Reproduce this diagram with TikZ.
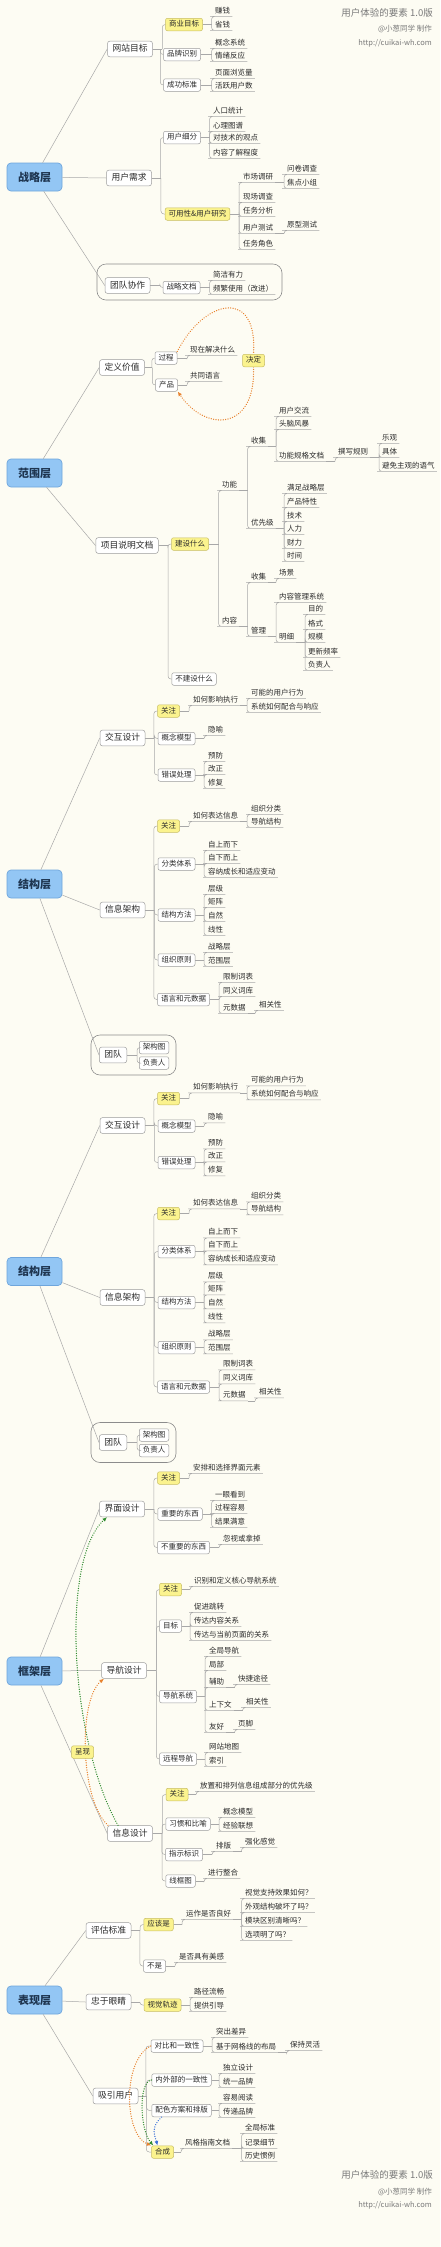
\documentclass[tikz,border=0pt]{standalone}
\usepackage{fontspec}
\setmainfont{Noto Sans CJK SC}
\usetikzlibrary{arrows.meta}
\definecolor{bg}{HTML}{FDFCF3}
\definecolor{lc}{HTML}{A8A8A8}
\definecolor{bc}{HTML}{9C9C9C}
\definecolor{tc}{HTML}{2B2B2B}
\definecolor{mainfill}{HTML}{93C6F4}
\definecolor{mainborder}{HTML}{6FA6DC}
\definecolor{maintext}{HTML}{1E3550}
\definecolor{yf}{HTML}{FBF38E}
\definecolor{yb}{HTML}{C7BD62}
\definecolor{bdc}{HTML}{8C8C8C}
\definecolor{titc}{HTML}{7A7A7A}
\definecolor{orc}{HTML}{E8822E}
\definecolor{grc}{HTML}{2E8B2E}
\definecolor{blc}{HTML}{3A6FD8}
\newcommand\fxs{\fontsize{7.5pt}{9pt}\selectfont}
\newcommand\fmd{\fontsize{8.75pt}{10pt}\selectfont}
\newcommand\flg{\fontsize{11pt}{13pt}\selectfont}
\newcommand\fti{\fontsize{9.5pt}{11pt}\selectfont}
\tikzset{
 conn/.style={draw=lc, line width=0.5pt},
 mainbox/.style={draw=mainborder, fill=mainfill, rounded corners=4pt, line width=0.7pt, minimum width=55pt, minimum height=28pt, font=\flg\bfseries, text=maintext, inner sep=0pt},
 l2box/.style={draw=bc, fill=white, rounded corners=2.5pt, line width=0.5pt, font=\fmd, text=tc, inner xsep=5pt, inner ysep=3.5pt, text height=7pt, text depth=1.8pt},
 l3box/.style={draw=bc, fill=white, rounded corners=2pt, line width=0.5pt, font=\fxs, text=tc, inner xsep=3.5pt, inner ysep=2.5pt, text height=6pt, text depth=1.5pt},
 ylbox/.style={l3box, fill=yf, draw=yb},
 lf/.style={font=\fxs, text=tc, inner xsep=2pt, inner ysep=1.5pt, text height=6pt, text depth=1.5pt, anchor=west},
 bound/.style={draw=bdc, line width=0.6pt, rounded corners=9pt},
 rel/.style={line width=1.4pt, dash pattern=on 0.01pt off 2.4pt, line cap=round},
 tip/.style={-{Latex[length=4.5pt,width=4pt]}},
 titlet/.style={font=\fti, text=titc, anchor=east, inner sep=0pt},
 subt/.style={font=\fxs, text=titc, anchor=east, inner sep=0pt},
}
\newcommand\tob[3]{\path (#1 -| #2.west) ++(-#3,0) coordinate (sp);\draw[conn] (#1) -- (sp);\draw[conn,rounded corners=3pt] (sp) |- (#2.west);}
\newcommand\tol[3]{\path (#1 -| #2.south west) ++(-#3,0) coordinate (sp);\draw[conn] (#1) -- (sp);\draw[conn,rounded corners=3pt] (sp) |- (#2.south west) -- (#2.south east);}
\newcommand\jglayer[2]{%
\begin{scope}[yshift=#1]
\draw[bound] (91,1035) rectangle (176,1075);
\node[mainbox] (#2m) at (34.5,884) {结构层};
\node[l2box] (#2s1) at (122.5,738) {交互设计};
\node[l2box] (#2s2) at (122.5,910) {信息架构};
\node[l2box] (#2s3) at (113,1055) {团队};
\node[ylbox] (#2t1) at (168.5,711) {关注};
\node[lf] (#2u1) at (191,700) {如何影响执行};
\node[lf] (#2u2) at (249,693) {可能的用户行为};
\node[lf] (#2u3) at (249,707) {系统如何配合与响应};
\node[l3box] (#2t2) at (176.5,738.5) {概念模型};
\node[lf] (#2u4) at (206,730) {隐喻};
\node[l3box] (#2t3) at (176.5,775) {错误处理};
\node[lf] (#2u5) at (206,756) {预防};
\node[lf] (#2u6) at (206,769) {改正};
\node[lf] (#2u7) at (206,783) {修复};
\node[ylbox] (#2t4) at (168.5,826) {关注};
\node[lf] (#2u8) at (191,816) {如何表达信息};
\node[lf] (#2u9) at (249,809) {组织分类};
\node[lf] (#2u10) at (249,822) {导航结构};
\node[l3box] (#2t5) at (176.5,864) {分类体系};
\node[lf] (#2u11) at (206,845) {自上而下};
\node[lf] (#2u12) at (206,858) {自下而上};
\node[lf] (#2u13) at (206,872) {容纳成长和适应变动};
\node[l3box] (#2t6) at (176.5,915) {结构方法};
\node[lf] (#2u14) at (206,889) {层级};
\node[lf] (#2u15) at (206,902) {矩阵};
\node[lf] (#2u16) at (206,916) {自然};
\node[lf] (#2u17) at (206,930) {线性};
\node[l3box] (#2t7) at (176.5,960) {组织原则};
\node[lf] (#2u18) at (206,947) {战略层};
\node[lf] (#2u19) at (206,961) {范围层};
\node[l3box] (#2t8) at (183.5,999.5) {语言和元数据};
\node[lf] (#2u20) at (221,977) {限制词表};
\node[lf] (#2u21) at (221,991) {同义词库};
\node[lf] (#2u22) at (221,1008) {元数据};
\node[lf] (#2u23) at (257,1005) {相关性};
\node[l3box] (#2t9) at (154,1047.5) {架构图};
\node[l3box] (#2t10) at (154,1063) {负责人};
\draw[conn] (#2m) -- (#2s1.west);
\draw[conn] (#2m) -- (#2s2.west);
\draw[conn] (#2m) -- (#2s3.west);
\tob{#2s1.east}{#2t1}{3.5}\tob{#2s1.east}{#2t2}{3.5}\tob{#2s1.east}{#2t3}{3.5}
\tol{#2t1.east}{#2u1}{2}
\tol{#2u1.south east}{#2u2}{2}\tol{#2u1.south east}{#2u3}{2}
\tol{#2t2.east}{#2u4}{2}
\tol{#2t3.east}{#2u5}{2}\tol{#2t3.east}{#2u6}{2}\tol{#2t3.east}{#2u7}{2}
\tob{#2s2.east}{#2t4}{3.5}\tob{#2s2.east}{#2t5}{3.5}\tob{#2s2.east}{#2t6}{3.5}\tob{#2s2.east}{#2t7}{3.5}\tob{#2s2.east}{#2t8}{3.5}
\tol{#2t4.east}{#2u8}{2}
\tol{#2u8.south east}{#2u9}{2}\tol{#2u8.south east}{#2u10}{2}
\tol{#2t5.east}{#2u11}{2}\tol{#2t5.east}{#2u12}{2}\tol{#2t5.east}{#2u13}{2}
\tol{#2t6.east}{#2u14}{2}\tol{#2t6.east}{#2u15}{2}\tol{#2t6.east}{#2u16}{2}\tol{#2t6.east}{#2u17}{2}
\tol{#2t7.east}{#2u18}{2}\tol{#2t7.east}{#2u19}{2}
\tol{#2t8.east}{#2u20}{2}\tol{#2t8.east}{#2u21}{2}\tol{#2t8.east}{#2u22}{2}
\tol{#2u22.south east}{#2u23}{2}
\tob{#2s3.east}{#2t9}{2}\tob{#2s3.east}{#2t10}{2}
\end{scope}}
\begin{document}
\begin{tikzpicture}[x=1pt,y=-1pt]
\fill[bg] (0,0) rectangle (440,2247);
% titles
\node[titlet] (tt1) at (433,13) {用户体验的要素 1.0版};
\node[subt] (tt2) at (432,29) {@小葱同学 制作};
\node[subt] (tt3) at (432,43) {http://cuikai-wh.com};
\node[titlet] (bt1) at (433,2175) {用户体验的要素 1.0版};
\node[subt] (bt2) at (432,2192) {@小葱同学 制作};
\node[subt] (bt3) at (432,2205) {http://cuikai-wh.com};

% ===== 战略层 =====
\draw[bound] (97,264) rectangle (282,300);
\node[mainbox] (m1) at (34.5,177) {战略层};
\node[l2box] (a1) at (130,49) {网站目标};
\node[l2box] (a2) at (129,178) {用户需求};
\node[l2box] (a3) at (127.5,285.5) {团队协作};
\node[ylbox] (b1) at (184,24.5) {商业目标};
\node[l3box] (b2) at (182,54.5) {品牌识别};
\node[l3box] (b3) at (182,85) {成功标准};
\node[lf] (c1) at (213,11) {赚钱};
\node[lf] (c2) at (213,25) {省钱};
\node[lf] (c3) at (213,43) {概念系统};
\node[lf] (c4) at (213,56) {情绪反应};
\node[lf] (c5) at (213,73) {页面浏览量};
\node[lf] (c6) at (213,86) {活跃用户数};
\node[l3box] (b4) at (182,137.5) {用户细分};
\node[lf] (c7) at (211,111) {人口统计};
\node[lf] (c8) at (211,126) {心理图谱};
\node[lf] (c9) at (211,138) {对技术的观点};
\node[lf] (c10) at (211,153) {内容了解程度};
\node[ylbox] (b5) at (197.5,214) {可用性\&用户研究};
\node[lf] (c11) at (241,177) {市场调研};
\node[lf] (c12) at (241,197) {现场调查};
\node[lf] (c13) at (241,211) {任务分析};
\node[lf] (c14) at (241,228) {用户测试};
\node[lf] (c15) at (241,244) {任务角色};
\node[lf] (c16) at (285,169) {问卷调查};
\node[lf] (c17) at (285,183) {焦点小组};
\node[lf] (c18) at (285,225) {原型测试};
\node[l3box] (b6) at (181.5,287.5) {战略文档};
\node[lf] (c19) at (211,275) {简洁有力};
\node[lf] (c20) at (211,289) {频繁使用（改进）};
\draw[conn] (m1) -- (a1.west);
\draw[conn] (m1) -- (a2.west);
\draw[conn] (m1) -- (a3.west);
\tob{a1.east}{b1}{3}\tob{a1.east}{b2}{3}\tob{a1.east}{b3}{3}
\tol{b1.east}{c1}{1.5}\tol{b1.east}{c2}{1.5}
\tol{b2.east}{c3}{1.5}\tol{b2.east}{c4}{1.5}
\tol{b3.east}{c5}{1.5}\tol{b3.east}{c6}{1.5}
\tob{a2.east}{b4}{3}\tob{a2.east}{b5}{4}
\tol{b4.east}{c7}{1.5}\tol{b4.east}{c8}{1.5}\tol{b4.east}{c9}{1.5}\tol{b4.east}{c10}{1.5}
\tol{b5.east}{c11}{2}\tol{b5.east}{c12}{2}\tol{b5.east}{c13}{2}\tol{b5.east}{c14}{2}\tol{b5.east}{c15}{2}
\tol{c11.south east}{c16}{1}\tol{c11.south east}{c17}{1}
\tol{c14.south east}{c18}{1}
\tob{a3.east}{b6}{3}
\tol{b6.east}{c19}{1.5}\tol{b6.east}{c20}{1.5}

% ===== 范围层 =====
\node[mainbox] (m2) at (34.5,473) {范围层};
\node[l2box] (a4) at (122,367.5) {定义价值};
\node[l2box] (a5) at (127,545.5) {项目说明文档};
\node[l3box] (b7) at (166,358) {过程};
\node[l3box] (b8) at (166.5,385) {产品};
\node[lf] (c21) at (188,350) {现在解决什么};
\node[lf] (c22) at (188,376) {共同语言};
\node[ylbox] (b10) at (190,544) {建设什么};
\node[l3box] (b11) at (194,679) {不建设什么};
\node[lf] (c23) at (220,485) {功能};
\node[lf] (c24) at (220,621) {内容};
\node[lf] (c25) at (249,441) {收集};
\node[lf] (c26) at (249,523) {优先级};
\node[lf] (c27) at (277,411) {用户交流};
\node[lf] (c28) at (277,424) {头脑风暴};
\node[lf] (c29) at (277,456) {功能规格文档};
\node[lf] (c30) at (336,452) {撰写规则};
\node[lf] (c31) at (380,438) {乐观};
\node[lf] (c32) at (380,452) {具体};
\node[lf] (c33) at (380,466) {避免主观的语气};
\node[lf] (c34) at (285,488) {满足战略层};
\node[lf] (c35) at (285,502) {产品特性};
\node[lf] (c36) at (285,516) {技术};
\node[lf] (c37) at (285,529) {人力};
\node[lf] (c38) at (285,543) {财力};
\node[lf] (c39) at (285,556) {时间};
\node[lf] (c40) at (249,577) {收集};
\node[lf] (c41) at (249,631) {管理};
\node[lf] (c42) at (277,573) {场景};
\node[lf] (c43) at (277,597) {内容管理系统};
\node[lf] (c44) at (277,637) {明细};
\node[lf] (c45) at (306,609) {目的};
\node[lf] (c46) at (306,624) {格式};
\node[lf] (c47) at (306,637) {规模};
\node[lf] (c48) at (306,652) {更新频率};
\node[lf] (c49) at (306,665) {负责人};
\draw[conn] (m2) -- (a4.west);
\draw[conn] (m2) -- (a5.west);
\tob{a4.east}{b7}{3}\tob{a4.east}{b8}{3}
\tol{b7.east}{c21}{1}\tol{b8.east}{c22}{1}
\tob{a5.east}{b10}{3.5}\tob{a5.east}{b11}{3.5}
\tol{b10.east}{c23}{1.5}\tol{b10.east}{c24}{1.5}
\tol{c23.south east}{c25}{1.5}\tol{c23.south east}{c26}{1.5}
\tol{c25.south east}{c27}{1}\tol{c25.south east}{c28}{1}\tol{c25.south east}{c29}{1}
\tol{c29.south east}{c30}{1}
\tol{c30.south east}{c31}{1}\tol{c30.south east}{c32}{1}\tol{c30.south east}{c33}{1}
\tol{c26.south east}{c34}{1}\tol{c26.south east}{c35}{1}\tol{c26.south east}{c36}{1}\tol{c26.south east}{c37}{1}\tol{c26.south east}{c38}{1}\tol{c26.south east}{c39}{1}
\tol{c24.south east}{c40}{1.5}\tol{c24.south east}{c41}{1.5}
\tol{c40.south east}{c42}{1}
\tol{c41.south east}{c43}{1}\tol{c41.south east}{c44}{1}
\tol{c44.south east}{c45}{1}\tol{c44.south east}{c46}{1}\tol{c44.south east}{c47}{1}\tol{c44.south east}{c48}{1}\tol{c44.south east}{c49}{1}
\draw[rel, draw=orc] (b7.north east) .. controls (205,298) and (258,288) .. (253.5,354);
\draw[rel, draw=orc, tip] (253.5,367) .. controls (256,432) and (205,432) .. (b8.south east);
\node[ylbox] (b9) at (253.5,360.5) {决定};

% ===== 结构层 x2 =====
\jglayer{0pt}{A}
\jglayer{-387.5pt}{B}

% ===== 框架层 =====
\node[mainbox] (m4) at (34.5,1671) {框架层};
\node[l2box] (f1) at (122,1509) {界面设计};
\node[l2box] (f2) at (124,1670.5) {导航设计};
\node[l2box] (f3) at (130,1833.5) {信息设计};
\node[ylbox] (g1) at (168.5,1478) {关注};
\node[lf] (h1) at (191,1468) {安排和选择界面元素};
\node[l3box] (g2) at (180,1514) {重要的东西};
\node[lf] (h2) at (213,1495) {一眼看到};
\node[lf] (h3) at (213,1508) {过程容易};
\node[lf] (h4) at (213,1522) {结果满意};
\node[l3box] (g3) at (183.5,1547.5) {不重要的东西};
\node[lf] (h5) at (221,1539) {忽视或拿掉};
\node[ylbox] (g4) at (170.5,1589.5) {关注};
\node[lf] (h6) at (192,1581) {识别和定义核心导航系统};
\node[l3box] (g5) at (170.5,1626) {目标};
\node[lf] (h7) at (192,1607) {促进跳转};
\node[lf] (h8) at (192,1621) {传达内容关系};
\node[lf] (h9) at (192,1635) {传达与当前页面的关系};
\node[l3box] (g6) at (178,1696.5) {导航系统};
\node[lf] (h10) at (207,1651) {全局导航};
\node[lf] (h11) at (207,1665) {局部};
\node[lf] (h12) at (207,1682) {辅助};
\node[lf] (h13) at (236,1679) {快捷途径};
\node[lf] (h14) at (207,1705) {上下文};
\node[lf] (h15) at (244,1702) {相关性};
\node[lf] (h16) at (207,1727) {友好};
\node[lf] (h17) at (236,1724) {页脚};
\node[l3box] (g7) at (178,1759) {远程导航};
\node[lf] (h18) at (207,1747) {网站地图};
\node[lf] (h19) at (207,1761) {索引};
\node[ylbox] (g8) at (177,1794.5) {关注};
\node[lf] (h20) at (198,1786) {放置和排列信息组成部分的优先级};
\node[l3box] (g9) at (188,1824) {习惯和比喻};
\node[lf] (h21) at (221,1812) {概念模型};
\node[lf] (h22) at (221,1826) {经验联想};
\node[l3box] (g10) at (184,1854.5) {指示标识};
\node[lf] (h23) at (214,1846) {排版};
\node[lf] (h24) at (243,1842) {强化感觉};
\node[l3box] (g11) at (180.5,1881) {线框图};
\node[lf] (h25) at (206,1873) {进行整合};
\draw[conn] (m4) -- (f1.west);
\draw[conn] (m4) -- (f2.west);
\draw[conn] (m4) -- (f3.west);
\tob{f1.east}{g1}{3.5}\tob{f1.east}{g2}{3.5}\tob{f1.east}{g3}{3.5}
\tol{g1.east}{h1}{2}
\tol{g2.east}{h2}{1.5}\tol{g2.east}{h3}{1.5}\tol{g2.east}{h4}{1.5}
\tol{g3.east}{h5}{2}
\tob{f2.east}{g4}{3}\tob{f2.east}{g5}{3}\tob{f2.east}{g6}{3}\tob{f2.east}{g7}{3}
\tol{g4.east}{h6}{2}
\tol{g5.east}{h7}{2}\tol{g5.east}{h8}{2}\tol{g5.east}{h9}{2}
\tol{g6.east}{h10}{2}\tol{g6.east}{h11}{2}\tol{g6.east}{h12}{2}\tol{g6.east}{h14}{2}\tol{g6.east}{h16}{2}
\tol{h12.south east}{h13}{1.5}\tol{h14.south east}{h15}{1.5}\tol{h16.south east}{h17}{1.5}
\tol{g7.east}{h18}{2}\tol{g7.east}{h19}{2}
\tob{f3.east}{g8}{3.5}\tob{f3.east}{g9}{3.5}\tob{f3.east}{g10}{3.5}\tob{f3.east}{g11}{3.5}
\tol{g8.east}{h20}{2}
\tol{g9.east}{h21}{2}\tol{g9.east}{h22}{2}
\tol{g10.east}{h23}{2}\tol{h23.south east}{h24}{1.5}
\tol{g11.east}{h25}{2}
\draw[rel, draw=grc, tip] ([xshift=-12pt]f3.north) .. controls (70,1740) and (60,1560) .. ([xshift=-15pt]f1.south);
\draw[rel, draw=orc, tip] ([xshift=-22pt]f3.north) .. controls (80,1800) and (78,1700) .. ([xshift=-20pt]f2.south);
\node[ylbox] (r1) at (82.5,1752) {呈现};

% ===== 表现层 =====
\node[mainbox] (m5) at (34.5,2000) {表现层};
\node[l2box] (p1) at (108.5,1930.5) {评估标准};
\node[l2box] (p2) at (108.5,2002) {忠于眼睛};
\node[l2box] (p3) at (115.5,2096) {吸引用户};
\node[ylbox] (q1) at (158.5,1924.5) {应该是};
\node[lf] (k1) at (184,1914) {运作是否良好};
\node[lf] (k2) at (243,1893) {视觉支持效果如何？};
\node[lf] (k3) at (243,1907) {外观结构破坏了吗？};
\node[lf] (k4) at (243,1921) {模块区别清晰吗？};
\node[lf] (k5) at (243,1935) {选项明了吗？};
\node[l3box] (q2) at (154.5,1966) {不是};
\node[lf] (k6) at (177,1957) {是否具有美感};
\node[ylbox] (q3) at (162.5,2005) {视觉轨迹};
\node[lf] (k7) at (192,1992) {路径流畅};
\node[lf] (k8) at (192,2006) {提供引导};
\node[l3box] (q4) at (177,2046) {对比和一致性};
\node[lf] (k9) at (214,2032) {突出差异};
\node[lf] (k10) at (214,2047) {基于网格线的布局};
\node[lf] (k11) at (288,2045) {保持灵活};
\node[l3box] (q5) at (181.5,2080) {内外部的一致性};
\node[lf] (k12) at (221,2068) {独立设计};
\node[lf] (k13) at (221,2082) {统一品牌};
\node[l3box] (q6) at (181.5,2110.5) {配色方案和排版};
\node[lf] (k14) at (221,2098) {容易阅读};
\node[lf] (k15) at (221,2112) {传递品牌};
\node[ylbox] (q7) at (162.5,2152) {合成};
\node[lf] (k16) at (183,2143) {风格指南文档};
\node[lf] (k17) at (243,2128) {全局标准};
\node[lf] (k18) at (243,2143) {记录细节};
\node[lf] (k19) at (243,2156) {历史惯例};
\draw[conn] (m5) -- (p1.west);
\draw[conn] (m5) -- (p2.west);
\draw[conn] (m5) -- (p3.west);
\tob{p1.east}{q1}{3.5}\tob{p1.east}{q2}{3.5}
\tol{q1.east}{k1}{2}
\tol{k1.south east}{k2}{1.5}\tol{k1.south east}{k3}{1.5}\tol{k1.south east}{k4}{1.5}\tol{k1.south east}{k5}{1.5}
\tol{q2.east}{k6}{2}
\tob{p2.east}{q3}{4}
\tol{q3.east}{k7}{2}\tol{q3.east}{k8}{2}
\tob{p3.east}{q4}{5}\tob{p3.east}{q5}{5}\tob{p3.east}{q6}{5}\tob{p3.east}{q7}{5}
\tol{q4.east}{k9}{2}\tol{q4.east}{k10}{2}
\tol{k10.south east}{k11}{1.5}
\tol{q5.east}{k12}{2}\tol{q5.east}{k13}{2}
\tol{q6.east}{k14}{2}\tol{q6.east}{k15}{2}
\tol{q7.east}{k16}{2}
\tol{k16.south east}{k17}{1.5}\tol{k16.south east}{k18}{1.5}\tol{k16.south east}{k19}{1.5}
\draw[rel, draw=orc, tip] (q4.west) .. controls (122,2060) and (124,2135) .. (q7.north west);
\draw[rel, draw=grc, tip] (q5.west) .. controls (138,2082) and (140,2130) .. ([xshift=2pt]q7.north west);
\draw[rel, draw=blc, tip] ([xshift=-20pt]q6.south) .. controls (150,2128) and (155,2136) .. ([xshift=-5pt]q7.north);
\end{tikzpicture}
\end{document}
